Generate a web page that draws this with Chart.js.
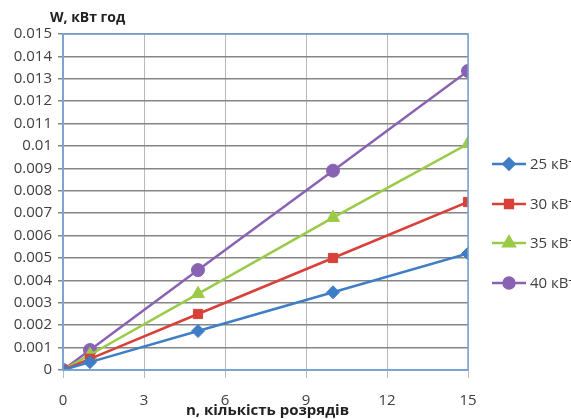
<!DOCTYPE html>
<html><head><meta charset="utf-8">
<script src="https://cdn.jsdelivr.net/npm/chart.js@4/dist/chart.umd.min.js"></script>
<style>html,body{margin:0;padding:0;background:#fff;overflow:hidden}#wrap{width:571px;height:419px}</style>
</head><body><div id="wrap"><canvas id="c" width="571" height="419"></canvas></div>
<script>
const nValues = [0, 1, 5, 10, 15];
const series25 = [0, 0.00035, 0.00174, 0.00347, 0.0052];
const series30 = [0, 0.0005, 0.0025, 0.005, 0.0075];
const series35 = [0, 0.00068, 0.0034, 0.0068, 0.0101];
const series40 = [0, 0.00089, 0.00446, 0.0089, 0.01335];
const seriesNames = ['25 кВт', '30 кВт', '35 кВт', '40 кВт'];
const xTicks = [0, 3, 6, 9, 12, 15];
const yTitle = 'W, кВт год';
const xTitle = 'n, кількість розрядів';

const colors = ['#3f7ec6', '#d9403a', '#9acb48', '#8a62b3'];
const styles = ['rectRot', 'rect', 'triangle', 'circle'];
const radii = [6.5, 6.5, 7.5, 6.5];
const all = [series25, series30, series35, series40];
const FONT = '"Open Sans", "DejaVu Sans", sans-serif';

const datasets = all.map((s, i) => ({
  label: seriesNames[i],
  data: s.map((v, j) => ({x: nValues[j], y: v})),
  borderColor: colors[i],
  backgroundColor: colors[i],
  borderWidth: 2.5,
  pointStyle: styles[i],
  pointRadius: radii[i],
  pointBorderWidth: 1,
  tension: 0
}));

const legendPlugin = {
  id: 'customLegend',
  afterDraw(chart) {
    const ctx = chart.ctx;
    ctx.save();
    const ys = [164, 204, 243, 283];
    chart.data.datasets.forEach((ds, i) => {
      const y = ys[i];
      ctx.strokeStyle = ds.borderColor;
      ctx.lineWidth = 2.5;
      ctx.beginPath(); ctx.moveTo(492, y); ctx.lineTo(526, y); ctx.stroke();
      Chart.helpers.drawPoint(ctx, {pointStyle: ds.pointStyle, radius: ds.pointRadius - 1, rotation: 0, borderWidth: 1}, 509, y);
      ctx.fillStyle = ds.borderColor;
      ctx.fill();
      ctx.fillStyle = '#404040';
      ctx.font = '15px ' + FONT;
      ctx.textBaseline = 'middle';
      ctx.textAlign = 'left';
      ctx.fillText(ds.label, 530, y + 1);
    });
    ctx.fillStyle = '#222';
    ctx.font = 'bold 14px ' + FONT;
    ctx.textAlign = 'left';
    ctx.textBaseline = 'middle';
    ctx.fillText(yTitle, 50, 18);
    ctx.textAlign = 'center';
    ctx.font = 'bold 15px ' + FONT;
    const ca = chart.chartArea;
    ctx.fillText(xTitle, (ca.left + ca.right) / 2 + 2, 411);
    ctx.strokeStyle = '#7aa3d2';
    ctx.lineWidth = 1.5;
    ctx.strokeRect(ca.left, ca.top, ca.right - ca.left, ca.bottom - ca.top);
    ctx.restore();
  }
};

new Chart(document.getElementById('c'), {
  type: 'line',
  data: {datasets},
  options: {
    responsive: false,
    animation: false,
    devicePixelRatio: 1,
    layout: {padding: {left: 0, right: 103, top: 34, bottom: 0}},
    plugins: {legend: {display: false}, tooltip: {enabled: false}},
    scales: {
      x: {
        type: 'linear', min: 0, max: 15,
        afterBuildTicks: s => { s.ticks = xTicks.map(v => ({value: v})); },
        afterFit: s => { s.height = 49; },
        grid: {color: '#b8b8b8', lineWidth: 1, tickLength: 8, drawTicks: true},
        border: {color: '#7aa3d2', width: 1.5},
        ticks: {color: '#404040', padding: 14, maxRotation: 0, font: {size: 15, family: FONT}}
      },
      y: {
        min: 0, max: 0.015,
        ticks: {stepSize: 0.001, color: '#404040', padding: 6, font: {size: 15, family: FONT},
          callback: v => String(Number(v.toFixed(3)))},
        afterFit: s => { s.width = 63; },
        grid: {color: '#858585', lineWidth: 1.5, tickLength: 5},
        border: {color: '#7aa3d2', width: 1.5}
      }
    }
  },
  plugins: [legendPlugin]
});
</script></body></html>
